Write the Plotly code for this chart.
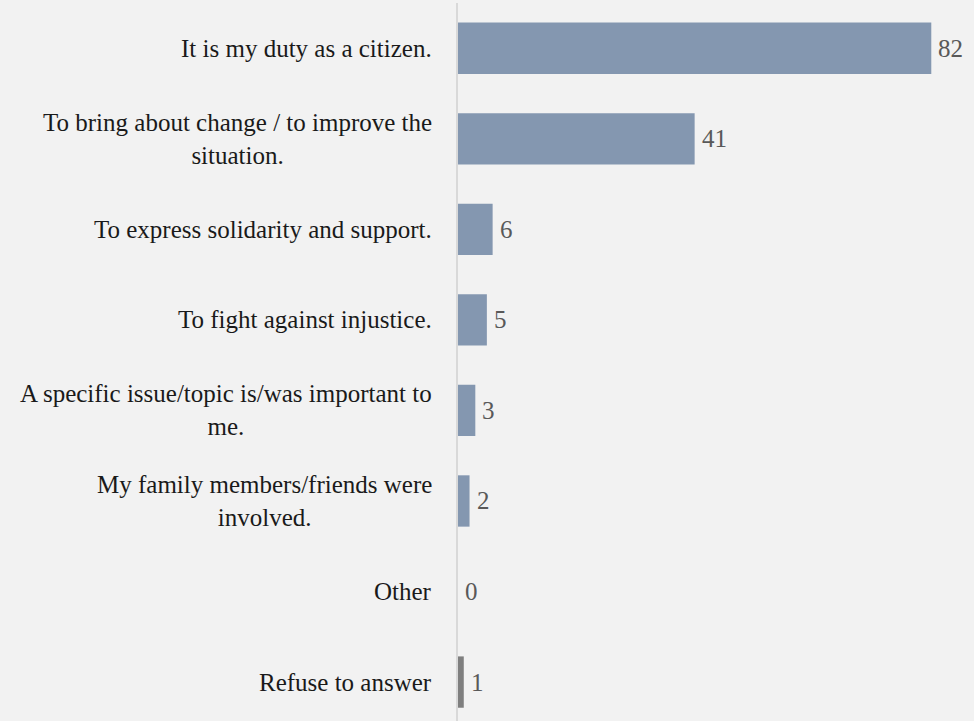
import plotly.graph_objects as go

categories = [
    "It is my duty as a citizen.",
    "To bring about change / to improve the<br>situation.",
    "To express solidarity and support.",
    "To fight against injustice.",
    "A specific issue/topic is/was important to<br>me.",
    "My family members/friends were<br>involved.",
    "Other",
    "Refuse to answer",
]
values = [82, 41, 6, 5, 3, 2, 0, 1]

BLUE = "#8497b0"
GRAY = "#7f7f7f"
colors = [BLUE] * 7 + [GRAY]
FONT = "Liberation Serif"

ypos = list(range(len(categories)))

fig = go.Figure(
    go.Bar(
        x=values,
        y=ypos,
        orientation="h",
        width=0.567,
        marker=dict(color=colors, line=dict(width=0)),
        hoverinfo="skip",
    )
)

annotations = []
for i, (cat, v) in enumerate(zip(categories, values)):
    annotations.append(dict(
        x=0, y=i, xref="x", yref="y", text=cat, showarrow=False,
        xanchor="right", yanchor="middle", align="center", xshift=-24,
        font=dict(family=FONT, size=25, color="#1a1a1a"),
    ))
    annotations.append(dict(
        x=v, y=i, xref="x", yref="y", text=str(v), showarrow=False,
        xanchor="left", yanchor="middle", xshift=5,
        font=dict(family=FONT, size=25, color="#595959"),
    ))

fig.update_layout(
    width=974, height=721,
    margin=dict(l=458, r=0, t=3, b=0, pad=0),
    paper_bgcolor="#f2f2f2",
    plot_bgcolor="#f2f2f2",
    showlegend=False,
    annotations=annotations,
    xaxis=dict(range=[0, 89.4], visible=False, fixedrange=True),
    yaxis=dict(
        range=[7.43, -0.5], showticklabels=False, showgrid=False,
        zeroline=False, showline=True, linecolor="#d9d9d9", linewidth=1.5,
        ticks="", fixedrange=True,
    ),
)

fig.write_html("out.html", config={"displayModeBar": False})
